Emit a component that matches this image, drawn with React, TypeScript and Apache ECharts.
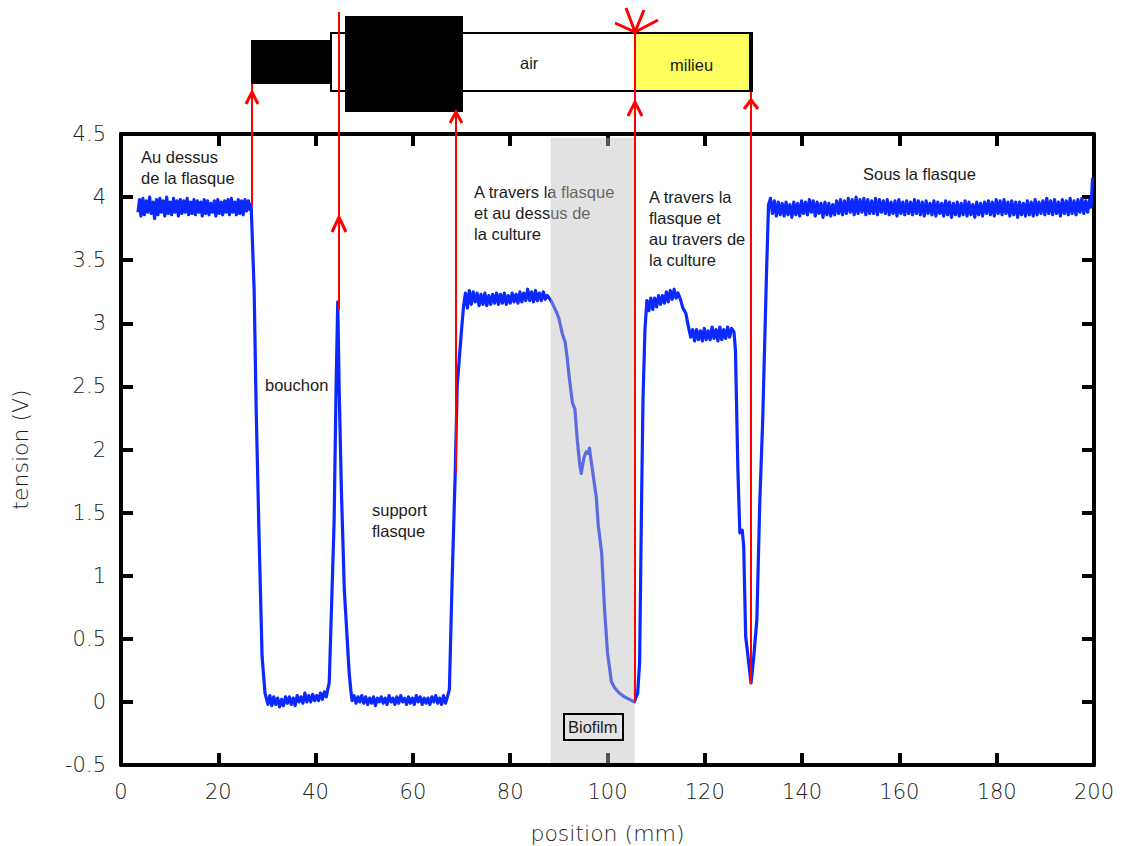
import React, { useEffect, useRef } from "react";
import * as echarts from "echarts";

const xTicks = { min: 0, max: 200, interval: 20 };
const yTicks = { min: -0.5, max: 4.5, interval: 0.5 };
const biofilmRange = [88.3, 105.6];
const biofilmBand = [-0.485, 4.47];

const topPlateau = [[3.5,3.88],[3.8,3.98],[4.1,3.85],[4.5,3.99],[4.8,3.86],[5.2,3.97],[5.5,3.88],[5.9,4.0],[6.2,3.87],[6.6,3.96],[6.9,3.83],[7.3,3.98],[7.6,3.86],[8,3.99],[8.3,3.88],[8.7,3.97],[9,3.85],[9.4,4.0],[9.7,3.87],[10.1,3.96],[10.4,3.86],[10.8,3.99],[11.1,3.88],[11.5,3.97],[11.8,3.85],[12.2,3.98],[12.5,3.87],[12.9,3.97],[13.2,3.88],[13.6,3.99],[13.9,3.86],[14.3,3.96],[14.6,3.87],[15,3.98],[15.3,3.86],[15.7,3.97],[16,3.88],[16.4,3.96],[16.7,3.85],[17.1,3.98],[17.4,3.87],[17.8,3.97],[18.1,3.86],[18.5,3.95],[18.8,3.88],[19.2,3.97],[19.5,3.85],[19.9,3.98],[20.2,3.87],[20.6,3.96],[20.9,3.86],[21.3,3.97],[21.6,3.88],[22,3.98],[22.3,3.86],[22.7,3.99],[23,3.88],[23.4,3.96],[23.7,3.86],[24.1,3.98],[24.4,3.87],[24.8,3.97],[25.1,3.86],[25.5,3.98],[25.8,3.89],[26.2,3.97],[26.5,3.9]];
const firstDrop = [[26.75,3.94],[27.37,3.26],[27.8,2.29],[28.4,1.28],[29,0.36],[29.6,0.07]];
const firstLow = [[30.2,-0.02],[30.6,0.05],[31,-0.03],[31.4,0.04],[31.8,-0.02],[32.2,0.03],[32.6,-0.04],[33,0.02],[33.4,-0.03],[33.8,0.04],[34.2,-0.01],[34.6,0.04],[35,-0.02],[35.4,0.03],[35.8,-0.03],[36.2,0.05],[36.6,0],[37,0.04],[37.4,-0.01],[37.8,0.07],[38.2,0],[38.6,0.05],[39,0],[39.4,0.06],[39.8,0.01],[40.2,0.05],[40.6,0.01],[41,0.07],[41.4,0.02],[41.8,0.08],[42.2,0.04],[42.5,0.1]];
const spike = [[42.8,0.15],[43.8,1.42],[44.2,2.47],[44.55,3.17],[44.85,2.47],[45.3,1.68],[45.9,0.89],[46.9,0.23],[47.3,0.07]];
const secondLow = [[47.5,0.01],[47.9,0.05],[48.3,-0.01],[48.7,0.04],[49.1,0],[49.5,0.05],[49.9,-0.01],[50.3,0.04],[50.7,-0.02],[51.1,0.03],[51.5,-0.01],[51.9,0.04],[52.3,-0.03],[52.7,0.03],[53.1,0],[53.5,0.04],[53.9,-0.01],[54.3,0.03],[54.7,-0.02],[55.1,0.05],[55.5,0],[55.9,0.03],[56.3,-0.02],[56.7,0.04],[57.1,-0.01],[57.5,0.05],[57.9,0],[58.3,0.03],[58.7,-0.02],[59.1,0.04],[59.5,-0.01],[59.9,0.03],[60.3,-0.02],[60.7,0.05],[61.1,0],[61.5,0.04],[61.9,-0.02],[62.3,0.03],[62.7,-0.01],[63.1,0.03],[63.5,-0.02],[63.9,0.04],[64.3,0],[64.7,0.05],[65.1,-0.01],[65.5,0.03],[65.9,-0.02],[66.3,0.05],[66.7,-0.01],[67.1,0.04]];
const secondRise = [[67.5,0.1],[68.1,1.02],[68.7,1.81],[69.1,2.5],[70,2.95],[70.4,3.13]];
const cultureTop = [[70.8,3.24],[71.2,3.12],[71.6,3.26],[72,3.15],[72.4,3.25],[72.8,3.17],[73.2,3.24],[73.6,3.14],[74,3.23],[74.4,3.15],[74.8,3.24],[75.2,3.14],[75.6,3.22],[76,3.15],[76.4,3.23],[76.8,3.16],[77.2,3.24],[77.6,3.15],[78,3.23],[78.4,3.16],[78.8,3.24],[79.2,3.15],[79.6,3.22],[80,3.16],[80.4,3.24],[80.8,3.17],[81.2,3.23],[81.6,3.16],[82,3.25],[82.4,3.17],[82.8,3.24],[83.2,3.18],[83.6,3.27],[84,3.18],[84.4,3.25],[84.8,3.17],[85.2,3.26],[85.6,3.18],[86,3.24],[86.4,3.18],[86.8,3.25],[87.2,3.19],[87.6,3.22],[88.4,3.18]];
const biofilmSlope = [[89,3.13],[89.5,3.09],[90,3.04],[90.7,2.92],[91.3,2.85],[91.7,2.73],[92.2,2.55],[92.8,2.37],[93.3,2.32],[93.8,2.07],[94.3,1.88],[94.6,1.81],[94.9,1.88],[95.2,1.94],[95.6,1.98],[96,1.97],[96.3,2.01],[96.6,1.92],[96.9,1.84],[97.7,1.62],[98.1,1.4],[98.8,1.18],[99.4,0.73],[100,0.39],[100.8,0.16],[101.5,0.11],[102.4,0.07],[103.5,0.04],[104.5,0.02],[105.5,0]];
const culturePeak = [[106.2,0.07],[106.6,0.31],[107,1.58],[107.3,2.4],[107.7,2.95],[108.1,3.18],[108.5,3.1],[108.9,3.2],[109.3,3.11],[109.7,3.2],[110.1,3.13],[110.5,3.22],[110.9,3.15],[111.3,3.22],[111.7,3.16],[112.1,3.25],[112.5,3.17],[112.9,3.26],[113.3,3.19],[113.7,3.27],[114.1,3.2],[114.5,3.24],[115,3.19],[115.5,3.12],[116.1,3.08],[116.6,2.98],[117.1,2.89]];
const cultureShelf = [[117.5,2.95],[117.9,2.86],[118.3,2.95],[118.7,2.87],[119.1,2.94],[119.5,2.86],[119.9,2.96],[120.3,2.87],[120.7,2.94],[121.1,2.87],[121.5,2.97],[121.9,2.88],[122.3,2.95],[122.7,2.86],[123.1,2.97],[123.5,2.87],[123.9,2.95],[124.3,2.88],[124.7,2.97],[125.1,2.89],[125.5,2.96],[126,2.93]];
const finalDip = [[126.3,2.79],[126.8,1.84],[127.2,1.34],[127.7,1.36],[128,1.23],[128.4,0.52],[129.5,0.15],[130,0.33],[130.7,0.65],[131.3,1.58],[131.9,2.23],[132.7,3.42],[133.1,3.94]];
const bottomPlateau = [[133.5,3.99],[133.9,3.87],[134.3,3.97],[134.7,3.85],[135.1,3.96],[135.5,3.86],[135.9,3.95],[136.3,3.85],[136.7,3.96],[137.1,3.86],[137.5,3.94],[137.9,3.84],[138.3,3.96],[138.7,3.86],[139.1,3.95],[139.5,3.85],[139.9,3.97],[140.3,3.87],[140.7,3.96],[141.1,3.86],[141.5,3.98],[141.9,3.88],[142.3,3.97],[142.7,3.85],[143.1,3.96],[143.5,3.87],[143.9,3.95],[144.3,3.84],[144.7,3.96],[145.1,3.86],[145.5,3.95],[145.9,3.85],[146.3,3.94],[146.7,3.86],[147.1,3.97],[147.5,3.87],[147.9,3.98],[148.3,3.86],[148.7,3.97],[149.1,3.87],[149.5,3.99],[149.9,3.88],[150.3,3.98],[150.7,3.86],[151.1,4.0],[151.5,3.87],[151.9,3.98],[152.3,3.88],[152.7,3.99],[153.1,3.86],[153.5,3.98],[153.9,3.87],[154.3,3.97],[154.7,3.87],[155.1,3.99],[155.5,3.86],[155.9,3.98],[156.3,3.88],[156.7,3.97],[157.1,3.87],[157.5,3.98],[157.9,3.86],[158.3,3.96],[158.7,3.87],[159.1,3.97],[159.5,3.85],[159.9,3.98],[160.3,3.87],[160.7,3.96],[161.1,3.86],[161.5,3.97],[161.9,3.87],[162.3,3.96],[162.7,3.86],[163.1,3.98],[163.5,3.87],[163.9,3.97],[164.3,3.86],[164.7,3.96],[165.1,3.85],[165.5,3.97],[165.9,3.87],[166.3,3.95],[166.7,3.86],[167.1,3.97],[167.5,3.85],[167.9,3.96],[168.3,3.87],[168.7,3.95],[169.1,3.85],[169.5,3.97],[169.9,3.86],[170.3,3.96],[170.7,3.84],[171.1,3.95],[171.5,3.86],[171.9,3.96],[172.3,3.85],[172.7,3.95],[173.1,3.86],[173.5,3.97],[173.9,3.85],[174.3,3.96],[174.7,3.86],[175.1,3.94],[175.5,3.84],[175.9,3.96],[176.3,3.86],[176.7,3.95],[177.1,3.85],[177.5,3.96],[177.9,3.87],[178.3,3.97],[178.7,3.86],[179.1,3.96],[179.5,3.85],[179.9,3.98],[180.3,3.87],[180.7,3.97],[181.1,3.86],[181.5,3.98],[181.9,3.87],[182.3,3.96],[182.7,3.85],[183.1,3.97],[183.5,3.86],[183.9,3.96],[184.3,3.84],[184.7,3.96],[185.1,3.86],[185.5,3.95],[185.9,3.85],[186.3,3.97],[186.7,3.86],[187.1,3.96],[187.5,3.85],[187.9,3.98],[188.3,3.86],[188.7,3.96],[189.1,3.87],[189.5,3.97],[189.9,3.86],[190.3,3.99],[190.7,3.87],[191.1,3.97],[191.5,3.86],[191.9,3.98],[192.3,3.87],[192.7,3.96],[193.1,3.85],[193.5,3.98],[193.9,3.87],[194.3,3.97],[194.7,3.86],[195.1,3.99],[195.5,3.87],[195.9,3.97],[196.3,3.86],[196.7,3.98],[197.1,3.88],[197.5,3.99],[197.9,3.87],[198.3,3.97],[198.7,3.88],[199.1,3.98],[199.4,3.92],[199.7,4.15]];

const curve = [
  ...topPlateau, ...firstDrop, ...firstLow, ...spike, ...secondLow, ...secondRise,
  ...cultureTop, ...biofilmSlope, ...culturePeak, ...cultureShelf, ...finalDip, ...bottomPlateau,
];

const annotations = [
  { text: "Au dessus\nde la flasque", x: 141, y: 146 },
  { text: "bouchon", x: 265, y: 374 },
  { text: "support\nflasque", x: 372, y: 499 },
  { text: "A travers la flasque\net au dessus de\nla culture", x: 474, y: 181 },
  { text: "A travers la\nflasque et\nau travers de\nla culture", x: 649, y: 186 },
  { text: "Sous la flasque", x: 863, y: 163 },
];

const arrows = [
  { x: 252, y1: 205, y2: 84, tip: 92, barb: 104, half: 6 },
  { x: 339, y1: 310, y2: 12, tip: 217, barb: 232, half: 7 },
  { x: 456, y1: 473, y2: 112, tip: 112, barb: 123, half: 6 },
  { x: 635, y1: 702, y2: 33, tip: 102, barb: 116, half: 7 },
  { x: 751, y1: 684, y2: 92, tip: 100, barb: 109, half: 7 },
];

export default function App() {
  const ref = useRef<HTMLDivElement>(null);
  useEffect(() => {
    const chart = echarts.init(ref.current!, undefined, { renderer: "svg" });
    const tickLabel = { color: "#222", fontFamily: "DejaVu Sans", fontWeight: 200, fontSize: 21 };
    const nameStyle = { color: "#222", fontFamily: "DejaVu Sans", fontWeight: 200, fontSize: 22 };
    const lineStyle = { color: "#000", width: 4 };
    const tickStyle = { show: true, inside: true, length: 12, lineStyle: { color: "#000", width: 4 } };
    const labelFont = "16.5px 'Liberation Sans'";
    const textEls = annotations.map((a) => ({
      type: "text", x: a.x, y: a.y, z: 5, silent: true,
      style: { text: a.text, fill: "#1c1c1c", font: labelFont, lineHeight: 21, textVerticalAlign: "top" },
    }));
    const red = { stroke: "#ff0000", lineWidth: 2, fill: "none" };
    const arrowEls = arrows.flatMap((a) => [
      { type: "line", z: 30, silent: true, shape: { x1: a.x, y1: a.y1, x2: a.x, y2: a.y2 }, style: red },
      { type: "polyline", z: 30, silent: true, shape: { points: [[a.x - a.half, a.barb], [a.x, a.tip], [a.x + a.half, a.barb]] }, style: { ...red, lineWidth: 3 } },
    ]);
    const diagram = [
      { type: "rect", z: 20, shape: { x: 331, y: 33, width: 421, height: 58 }, style: { fill: "#fff", stroke: "#000", lineWidth: 2 } },
      { type: "rect", z: 21, shape: { x: 636, y: 34, width: 114, height: 56 }, style: { fill: "#ffff60" } },
      { type: "rect", z: 22, shape: { x: 749, y: 33, width: 4, height: 58 }, style: { fill: "#000" } },
      { type: "rect", z: 22, shape: { x: 251, y: 40, width: 80, height: 44 }, style: { fill: "#000" } },
      { type: "rect", z: 22, shape: { x: 345, y: 16, width: 118, height: 96 }, style: { fill: "#000" } },
      { type: "text", z: 23, x: 520, y: 54, style: { text: "air", fill: "#1c1c1c", font: labelFont } },
      { type: "text", z: 23, x: 670, y: 56, style: { text: "milieu", fill: "#1c1c1c", font: labelFont } },
      { type: "polyline", z: 30, shape: { points: [[626, 8], [635, 32], [644, 10]] }, style: { ...red, lineWidth: 3 } },
      { type: "polyline", z: 30, shape: { points: [[615, 23], [635, 32], [658, 20]] }, style: { ...red, lineWidth: 3 } },
      { type: "rect", z: 25, shape: { x: 564, y: 714, width: 59, height: 26 }, style: { fill: "#e4e4e4", stroke: "#000", lineWidth: 2 } },
      { type: "text", z: 26, x: 568, y: 718, style: { text: "Biofilm", fill: "#1c1c1c", font: labelFont } },
    ];
    chart.setOption({
      animation: false,
      backgroundColor: "#fff",
      grid: { left: 121, right: 34, top: 134, bottom: 81, containLabel: false, outerBoundsMode: "none" },
      xAxis: [
        {
          type: "value", ...xTicks, position: "bottom", splitLine: { show: false },
          axisLine: { show: true, onZero: false, lineStyle }, axisTick: tickStyle,
          axisLabel: { ...tickLabel, margin: 16 },
          name: "position (mm)", nameLocation: "middle", nameGap: 57, nameTextStyle: nameStyle,
        },
        {
          type: "value", ...xTicks, position: "top", splitLine: { show: false },
          axisLine: { show: true, onZero: false, lineStyle }, axisTick: tickStyle, axisLabel: { show: false },
        },
      ],
      yAxis: [
        {
          type: "value", ...yTicks, position: "left", splitLine: { show: false },
          axisLine: { show: true, onZero: false, lineStyle }, axisTick: tickStyle,
          axisLabel: { ...tickLabel, margin: 15 },
          name: "tension (V)", nameLocation: "middle", nameGap: 90, nameRotate: 90, nameTextStyle: nameStyle,
        },
        {
          type: "value", ...yTicks, position: "right", splitLine: { show: false },
          axisLine: { show: true, onZero: false, lineStyle }, axisTick: tickStyle, axisLabel: { show: false },
        },
      ],
      graphic: [...textEls, ...arrowEls, ...diagram],
      series: [
        {
          type: "line", data: curve, showSymbol: false, symbol: "none", z: 4,
          lineStyle: { color: "#0a28ff", width: 3.2, join: "round" },
          markArea: {
            z: 10, silent: true,
            itemStyle: { color: "rgba(190,190,190,0.45)" },
            data: [[
              { xAxis: biofilmRange[0], yAxis: biofilmBand[0] },
              { xAxis: biofilmRange[1], yAxis: biofilmBand[1] },
            ]],
          },
        },
      ],
    });
    return () => chart.dispose();
  }, []);
  return <div ref={ref} style={{ position: "fixed", left: 0, top: 0, width: 1128, height: 846 }} />;
}
